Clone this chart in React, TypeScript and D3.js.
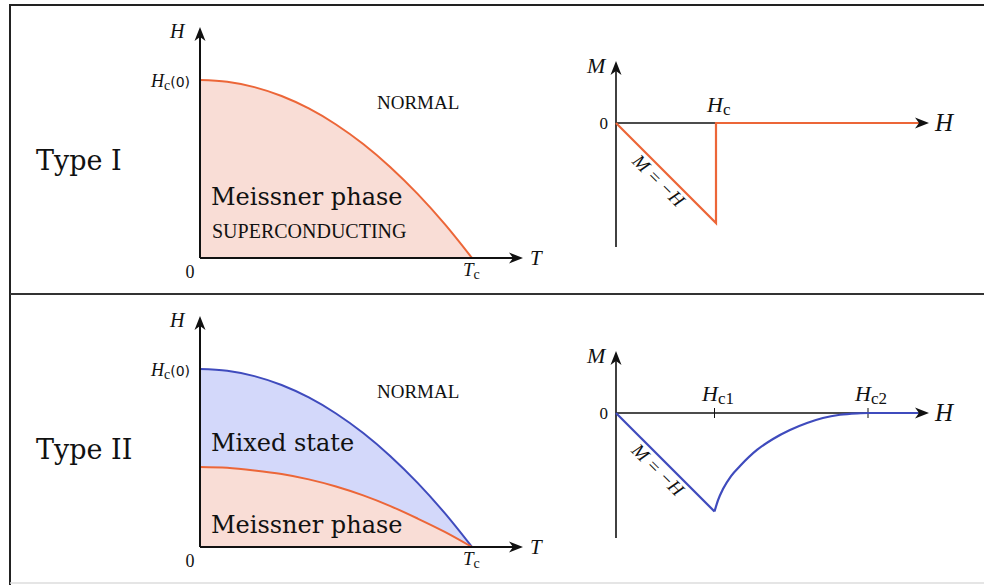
import React from "react";
import * as d3 from "d3";

// reduced temperature T/Tc sampled along the phase boundaries
const tFrac = [0, 0.1, 0.2, 0.3, 0.4, 0.5, 0.6, 0.7, 0.8, 0.9, 1];
// Hc(T)/Hc(0), type I (and Hc2 for type II)
const hcCurve = [1, 0.99, 0.96, 0.91, 0.84, 0.75, 0.64, 0.51, 0.36, 0.19, 0];
// Hc1(T)/Hc(0), type II
const hc1Curve = [0.45, 0.445, 0.43, 0.41, 0.38, 0.34, 0.29, 0.23, 0.16, 0.085, 0];

// magnetisation, type I (H in units of Hc)
const m1H = [0, 1, 1, 3.04];
const m1M = [0, -1, 0, 0];
// magnetisation, type II (H in units of Hc1)
const m2LinH = [0, 1];
const m2LinM = [0, -1];
const m2CurveH = [1, 1.036, 1.086, 1.168, 1.259, 1.431, 1.594, 1.766, 1.939, 2.1, 2.274, 2.447, 2.558, 3.07];
const m2CurveM = [-1, -0.884, -0.772, -0.64, -0.538, -0.375, -0.264, -0.173, -0.102, -0.051, -0.018, -0.004, 0, 0];

const ORANGE = "#ec6638";
const PINK = "#f9ddd6";
const BLUE = "#3f4bbd";
const LAVENDER = "#d3d8fa";
const INK = "#111";
const SERIF = "'DejaVu Serif', serif";
const TIMES = "'Liberation Serif', serif";

type Pt = [number, number];

const arrowRight = (x: number, y: number) =>
  `M${x},${y} L${x - 14},${y - 5.5} L${x - 10},${y} L${x - 14},${y + 5.5} Z`;
const arrowUp = (x: number, y: number) =>
  `M${x},${y} L${x - 5.5},${y + 14} L${x},${y + 10} L${x + 5.5},${y + 14} Z`;

function PhaseDiagram({ oy, type2 }: { oy: number; type2: boolean }) {
  // oy = y of the T axis
  const x = d3.scaleLinear().domain([0, 1]).range([200, 472]);
  const y = d3.scaleLinear().domain([0, 1]).range([oy, oy - 178]);
  const hc: Pt[] = tFrac.map((t, i) => [t, hcCurve[i]]);
  const hc1: Pt[] = tFrac.map((t, i) => [t, hc1Curve[i]]);
  const line = d3.line<Pt>().x((d) => x(d[0])).y((d) => y(d[1])).curve(d3.curveMonotoneX);
  const areaUnder = d3
    .area<Pt>()
    .x((d) => x(d[0]))
    .y0(y(0))
    .y1((d) => y(d[1]))
    .curve(d3.curveMonotoneX);
  const between = d3
    .area<number>()
    .x((_, i) => x(tFrac[i]))
    .y0((_, i) => y(hc1Curve[i]))
    .y1((_, i) => y(hcCurve[i]))
    .curve(d3.curveMonotoneX);

  return (
    <g>
      {type2 ? (
        <>
          <path d={between(tFrac) || ""} fill={LAVENDER} />
          <path d={areaUnder(hc1) || ""} fill={PINK} />
          <path d={line(hc) || ""} fill="none" stroke={BLUE} strokeWidth={2} />
          <path d={line(hc1) || ""} fill="none" stroke={ORANGE} strokeWidth={2} />
        </>
      ) : (
        <>
          <path d={areaUnder(hc) || ""} fill={PINK} />
          <path d={line(hc) || ""} fill="none" stroke={ORANGE} strokeWidth={2} />
        </>
      )}
      {/* axes */}
      <line x1={x(0)} y1={y(0)} x2={516} y2={y(0)} stroke={INK} strokeWidth={2} />
      <path d={arrowRight(523, y(0))} fill={INK} />
      <line x1={x(0)} y1={y(0)} x2={x(0)} y2={oy - 224} stroke={INK} strokeWidth={2} />
      <path d={arrowUp(x(0), oy - 231)} fill={INK} />

      <text x={170} y={oy - 220} fontFamily={TIMES} fontStyle="italic" fontSize={20} fill={INK}>H</text>
      <text x={530} y={oy + 7} fontFamily={TIMES} fontStyle="italic" fontSize={21} fill={INK}>T</text>
      <text x={190} y={oy + 20} fontFamily={TIMES} fontSize={18} textAnchor="middle" fill={INK}>0</text>
      <text x={463} y={oy + 18} fontFamily={TIMES} fontSize={19} fill={INK}>
        <tspan fontStyle="italic">T</tspan>
        <tspan fontSize={14} dy={3}>c</tspan>
      </text>
      <text x={151} y={y(1) + 7} fontFamily={TIMES} fontSize={18} fill={INK}>
        <tspan fontStyle="italic">H</tspan>
        <tspan fontSize={14} dy={3}>c</tspan>
        <tspan fontFamily="'DejaVu Sans', sans-serif" fontSize={14} dy={-3}>(0)</tspan>
      </text>
      <text x={377} y={y(1) + 29} fontFamily={TIMES} fontSize={19} fill={INK}>NORMAL</text>

      <text x={36} y={oy - 88} fontFamily={SERIF} fontSize={27} fill={INK}>{type2 ? "Type II" : "Type I"}</text>
      {type2 ? (
        <>
          <text x={211} y={oy - 96} fontFamily={SERIF} fontSize={24} fill={INK}>Mixed state</text>
          <text x={211} y={oy - 14} fontFamily={SERIF} fontSize={24} fill={INK}>Meissner phase</text>
        </>
      ) : (
        <>
          <text x={211} y={oy - 53} fontFamily={SERIF} fontSize={24} fill={INK}>Meissner phase</text>
          <text x={212} y={oy - 20} fontFamily={TIMES} fontSize={20} fill={INK}>SUPERCONDUCTING</text>
        </>
      )}
    </g>
  );
}

function MagPlot({ oy, type2 }: { oy: number; type2: boolean }) {
  const unit = type2 ? 98.5 : 100;
  const x = d3.scaleLinear().domain([0, 1]).range([616, 616 + unit]);
  const y = d3.scaleLinear().domain([0, -1]).range([oy, oy + unit]);
  const line = d3.line<Pt>().x((d) => x(d[0])).y((d) => y(d[1]));
  const curve = d3
    .line<Pt>()
    .x((d) => x(d[0]))
    .y((d) => y(d[1]))
    .curve(d3.curveMonotoneX);
  const color = type2 ? BLUE : ORANGE;
  const hc2X = 868;

  return (
    <g>
      {/* axes */}
      <line x1={x(0)} y1={oy} x2={922} y2={oy} stroke={INK} strokeWidth={1.6} />
      <line x1={x(0)} y1={type2 ? oy + 125 : oy + 124} x2={x(0)} y2={oy - 55} stroke={INK} strokeWidth={1.6} />
      {type2 && (
        <>
          <line x1={x(1)} y1={oy - 5} x2={x(1)} y2={oy + 5} stroke={INK} strokeWidth={1} />
          <line x1={hc2X} y1={oy - 5} x2={hc2X} y2={oy + 5} stroke={INK} strokeWidth={1} />
        </>
      )}
      {type2 ? (
        <>
          <path d={line(m2LinH.map((h, i) => [h, m2LinM[i]] as Pt)) || ""} fill="none" stroke={color} strokeWidth={2.2} />
          <path d={curve(m2CurveH.map((h, i) => [h, m2CurveM[i]] as Pt)) || ""} fill="none" stroke={color} strokeWidth={2.2} />
        </>
      ) : (
        <path d={line(m1H.map((h, i) => [h, m1M[i]] as Pt)) || ""} fill="none" stroke={color} strokeWidth={2.2} />
      )}
      <path d={arrowRight(929, oy)} fill={INK} />
      <path d={arrowUp(x(0), oy - 62)} fill={INK} />

      <text x={587} y={oy - 50} fontFamily={TIMES} fontStyle="italic" fontSize={22} fill={INK}>M</text>
      <text x={935} y={oy + 8} fontFamily={TIMES} fontStyle="italic" fontSize={25} fill={INK}>H</text>
      <text x={608} y={oy + 6} fontFamily={TIMES} fontSize={17} textAnchor="end" fill={INK}>0</text>
      {type2 ? (
        <>
          <text x={702} y={oy - 12} fontFamily={TIMES} fontSize={22} fill={INK}>
            <tspan fontStyle="italic">H</tspan>
            <tspan fontSize={17} dy={3}>c1</tspan>
          </text>
          <text x={855} y={oy - 12} fontFamily={TIMES} fontSize={22} fill={INK}>
            <tspan fontStyle="italic">H</tspan>
            <tspan fontSize={17} dy={3}>c2</tspan>
          </text>
        </>
      ) : (
        <text x={707} y={oy - 11} fontFamily={TIMES} fontSize={22} fill={INK}>
          <tspan fontStyle="italic">H</tspan>
          <tspan fontSize={17} dy={3}>c</tspan>
        </text>
      )}
      <text
        transform={`translate(${x(0.4) - 2},${y(-0.4) + 22}) rotate(45)`}
        fontFamily={TIMES}
        fontStyle="italic"
        fontSize={19}
        textAnchor="middle"
        fill={INK}
      >
        M = −H
      </text>
    </g>
  );
}

export default function App() {
  return (
    <svg width={984} height={585} style={{ position: "absolute", left: 0, top: 0, background: "#fff" }}>
      <rect x={0} y={0} width={984} height={585} fill="#fff" />
      {/* frame */}
      <line x1={9} y1={5} x2={984} y2={5} stroke="#222" strokeWidth={2} />
      <line x1={10} y1={4} x2={10} y2={585} stroke="#222" strokeWidth={2} />
      <line x1={10} y1={294} x2={984} y2={294} stroke="#333" strokeWidth={2} />
      <line x1={10} y1={583} x2={984} y2={583} stroke="#ddd" strokeWidth={1.5} />

      <PhaseDiagram oy={258} type2={false} />
      <PhaseDiagram oy={547} type2={true} />
      <MagPlot oy={123} type2={false} />
      <MagPlot oy={413} type2={true} />
    </svg>
  );
}
